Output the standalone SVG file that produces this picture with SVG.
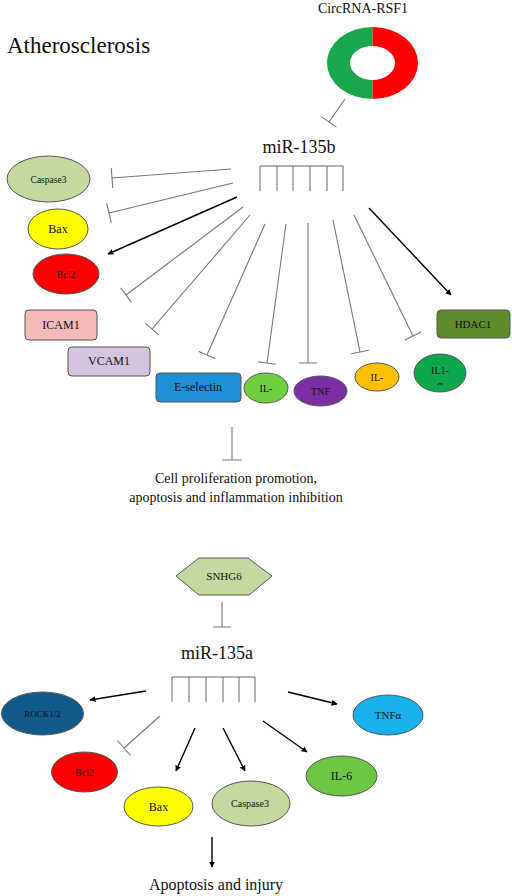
<svg xmlns="http://www.w3.org/2000/svg" width="512" height="896" viewBox="0 0 512 896">
<defs>
<style>
text{font-family:"Liberation Serif","Times New Roman",serif;fill:#111;text-anchor:middle}
.node{stroke:#555;stroke-width:1}
.inh{stroke:#777;stroke-width:1.1;fill:none}
.act{stroke:#000;stroke-width:1.4;fill:none;marker-end:url(#ah)}
.comb{stroke:#666;stroke-width:1;fill:none}
</style>
<marker id="ah" viewBox="0 0 10 10" refX="9" refY="5" markerWidth="6" markerHeight="6" orient="auto" markerUnits="userSpaceOnUse">
<path d="M0,0 L10,5 L0,10 z" fill="#000"/>
</marker>
<clipPath id="ilclip"><rect x="410" y="350" width="60" height="35"/></clipPath>
</defs>
<rect width="512" height="896" fill="#fff"/>

<text x="7" y="53" style="text-anchor:start;font-size:23px">Atherosclerosis</text>

<g id="circrna">
<text x="363" y="13" style="font-size:14px">CircRNA-RSF1</text>
<path d="M372.5,27 A45.5,36 0 0 0 372.5,99 L372.5,80 A22.5,17 0 0 1 372.5,46 Z" fill="#1aa64a"/>
<path d="M372.5,27 A45.5,36 0 0 1 372.5,99 L372.5,80 A22.5,17 0 0 0 372.5,46 Z" fill="#ff0000"/>
</g>

<g id="mir135b">
<text x="299" y="153" style="font-size:18px">miR-135b</text>
<path class="comb" d="M260,191 V166 H343 V191 M277,166 V191 M293,166 V191 M310,166 V191 M327,166 V191"/>
</g>

<g id="connectors">
<path class="inh" d="M345,99 L329,122 M321.6,116.9 L336.4,127.1"/>
<path class="inh" d="M231,169 L112,178 M111.2,168 L112.8,188"/>
<path class="inh" d="M233,183 L109,213 M106.6,203.3 L111.4,222.7"/>
<path class="act" d="M237,197 L108,254"/>
<path class="inh" d="M243,207 L126,295 M120.6,287.8 L131.4,302.2"/>
<path class="inh" d="M250,215 L152,329 M145.2,323.1 L158.8,334.9"/>
<path class="inh" d="M265,224 L207,355 M198.8,351.4 L215.2,358.6"/>
<path class="inh" d="M286,224 L267,363 M258.1,361.8 L275.9,364.2"/>
<path class="inh" d="M308,223 L308,363 M299,363 L317,363"/>
<path class="inh" d="M333,220 L360,352 M351.2,353.8 L368.8,350.2"/>
<path class="inh" d="M354,215 L413,336 M404.9,339.9 L421.1,332.1"/>
<path class="act" d="M369,208 L451,295"/>
<path class="inh" d="M232,427 L232,460 M222,460 L242,460"/>
<path class="inh" d="M222,602 L222,627 M213,627 L231,627"/>
<path class="act" d="M146,691 L90,700"/>
<path class="inh" d="M160,716 L124,748 M117.4,740.5 L130.6,755.5"/>
<path class="act" d="M195,728 L176,771"/>
<path class="act" d="M223,728 L245,771"/>
<path class="act" d="M263,721 L307,752"/>
<path class="act" d="M288,692 L337,704"/>
<path class="act" d="M212,837 L212,867"/>
</g>

<g id="caspase3-b">
<ellipse class="node" cx="48.5" cy="179" rx="41.5" ry="23" fill="#c3d9a0"/>
<text x="48.5" y="183" style="font-size:9.5px">Caspase3</text>
</g>
<g id="bax-b">
<ellipse class="node" cx="58" cy="229" rx="30" ry="20" fill="#ffff00"/>
<text x="58" y="233" style="font-size:12px">Bax</text>
</g>
<g id="bcl2-b">
<ellipse class="node" cx="66" cy="274" rx="33" ry="20" fill="#ff0000"/>
<text x="66" y="278" style="font-size:10px">Bcl2</text>
</g>
<g id="icam1">
<rect class="node" x="25" y="310" width="72" height="30" rx="4" fill="#f4b9b9"/>
<text x="61" y="329" style="font-size:12px">ICAM1</text>
</g>
<g id="vcam1">
<rect class="node" x="68" y="347" width="82" height="29" rx="4" fill="#d4c4de"/>
<text x="109" y="365" style="font-size:12px">VCAM1</text>
</g>
<g id="eselectin">
<rect class="node" x="156" y="373" width="85" height="29" rx="4" fill="#1f8fd8"/>
<text x="198" y="391" style="font-size:12px">E-selectin</text>
</g>
<g id="il-a">
<ellipse class="node" cx="266" cy="388" rx="22" ry="15" fill="#6fcf3f"/>
<text x="266" y="392" style="font-size:10px">IL-</text>
</g>
<g id="tnf-b">
<ellipse class="node" cx="320.5" cy="391" rx="26.5" ry="15" fill="#7b2fa3"/>
<text x="320.5" y="395" style="font-size:10px">TNF</text>
</g>
<g id="il-b">
<ellipse class="node" cx="377" cy="377" rx="22" ry="14" fill="#ffc000"/>
<text x="377" y="381" style="font-size:10px">IL-</text>
</g>
<g id="il1a">
<ellipse class="node" cx="440" cy="373" rx="26" ry="19" fill="#0aa84a"/>
<text x="440" y="374" style="font-size:10px">IL1-</text>
<text x="440" y="388" style="font-size:10px" clip-path="url(#ilclip)">α</text>
</g>
<g id="hdac1">
<rect class="node" x="437" y="310" width="73" height="28" rx="4" fill="#5f8b2d"/>
<text x="473" y="328" style="font-size:11px">HDAC1</text>
</g>

<g id="outcome-b">
<text x="236" y="483" style="font-size:14px">Cell proliferation promotion,</text>
<text x="236" y="502" style="font-size:14px">apoptosis and inflammation inhibition</text>
</g>

<g id="snhg6">
<polygon class="node" points="176,576 199,558 248,558 272,576 249,595 199,595" fill="#c3d9a0"/>
<text x="224" y="580" style="font-size:11px">SNHG6</text>
</g>

<g id="mir135a">
<text x="217" y="659" style="font-size:18px">miR-135a</text>
<path class="comb" d="M172,702 V677 H255 V702 M189,677 V702 M206,677 V702 M223,677 V702 M239,677 V702"/>
</g>

<g id="rock12">
<ellipse class="node" cx="42.5" cy="713.5" rx="41" ry="21.5" fill="#105a8c"/>
<text x="42.5" y="717" style="font-size:9px">ROCK1/2</text>
</g>
<g id="bcl2-a">
<ellipse class="node" cx="84.5" cy="772" rx="33" ry="20" fill="#ff0000"/>
<text x="84.5" y="776" style="font-size:10px">Bcl2</text>
</g>
<g id="bax-a">
<ellipse class="node" cx="158.5" cy="806.5" rx="34.5" ry="19.5" fill="#ffff00"/>
<text x="158.5" y="811" style="font-size:12px">Bax</text>
</g>
<g id="caspase3-a">
<ellipse class="node" cx="251" cy="803.5" rx="39" ry="22.5" fill="#c3d9a0"/>
<text x="250" y="807" style="font-size:10px">Caspase3</text>
</g>
<g id="il6">
<ellipse class="node" cx="341.5" cy="776" rx="35.5" ry="20" fill="#6cc644"/>
<text x="341.5" y="780" style="font-size:12px">IL-6</text>
</g>
<g id="tnfa">
<ellipse class="node" cx="388" cy="715" rx="35" ry="20" fill="#1ab0ec"/>
<text x="388" y="719" style="font-size:11px">TNFα</text>
</g>

<g id="outcome-a">
<text x="216" y="890" style="font-size:16px">Apoptosis and injury</text>
</g>
</svg>
